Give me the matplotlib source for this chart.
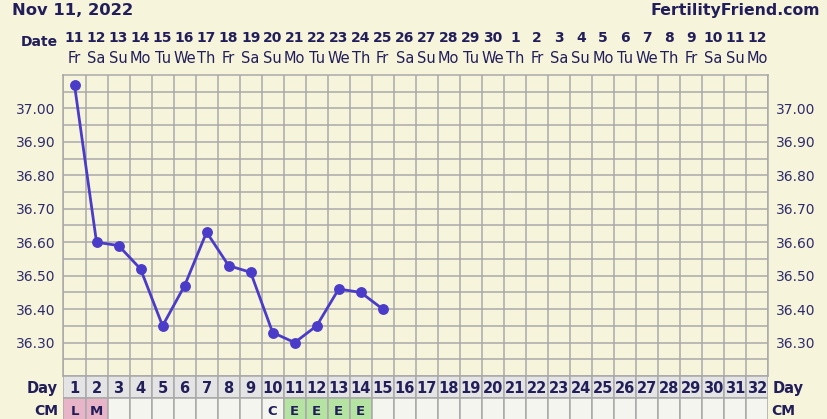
import numpy as np
import matplotlib
matplotlib.use("Agg")
import matplotlib.pyplot as plt
import matplotlib.transforms as mtransforms

# ---------------- data ----------------
cycle_days = list(range(1, 33))
date_nums = ["11", "12", "13", "14", "15", "16", "17", "18", "19", "20", "21", "22",
             "23", "24", "25", "26", "27", "28", "29", "30", "1", "2", "3", "4", "5",
             "6", "7", "8", "9", "10", "11", "12"]
weekdays = ["Fr", "Sa", "Su", "Mo", "Tu", "We", "Th"] * 4 + ["Fr", "Sa", "Su", "Mo"]
temp_days = list(range(1, 16))
temps = [37.07, 36.60, 36.59, 36.52, 36.35, 36.47, 36.63, 36.53, 36.51,
         36.33, 36.30, 36.35, 36.46, 36.45, 36.40]
cm_days = [1, 2, 10, 11, 12, 13, 14]
cm_codes = ["L", "M", "C", "E", "E", "E", "E"]
y_ticks = [36.30, 36.40, 36.50, 36.60, 36.70, 36.80, 36.90, 37.00]
title = "Nov 11, 2022"
brand = "FertilityFriend.com"

# ---------------- style ----------------
BG = "#f7f4dc"
GRID = "#a9a9a9"
NAVY = "#221e5a"
LABEL = "#2e2b6b"
LINE = "#4a3cc8"
DAYROW = "#e4e4e4"
CMROW = "#f5f5f0"
CM_COLORS = {"L": "#e8b5c8", "M": "#e8b5c8", "E": "#b5e3a1", "C": CMROW}

W, H = 828, 419
fig = plt.figure(figsize=(W / 100, H / 100), dpi=100, facecolor=BG)

def fy(px):
    return 1 - px / H

x0, x1 = 63.5, 768.0
ytop, ybot = 75.0, 376.0
ax = fig.add_axes([x0 / W, 1 - ybot / H, (x1 - x0) / W, (ybot - ytop) / H])
ax.set_facecolor(BG)
ax.set_xlim(0.5, 32.5)
ax.set_ylim(36.20, 37.10)
ax.set_xticks(np.arange(0.5, 33.0, 1.0))
ax.set_xticklabels([])
ax.set_yticks(y_ticks)
ax.set_yticklabels([f"{v:.2f}" for v in y_ticks])
ax.set_yticks(np.arange(36.25, 37.10, 0.1), minor=True)
ax.grid(True, which="both", color=GRID, linewidth=1.1)
ax.tick_params(axis="both", which="both", length=0)
ax.tick_params(axis="y", which="major", labelleft=True, labelright=True,
               labelsize=10, labelcolor=LABEL, pad=6)
for s in ax.spines.values():
    s.set_color(GRID)
    s.set_linewidth(1.1)
ax.set_axisbelow(True)

ax.plot(temp_days, temps, color=LINE, linewidth=2.0, marker="o",
        markersize=6.8, markerfacecolor=LINE, markeredgecolor=LINE, zorder=5)

# ---------------- bottom rows ----------------
ax2 = fig.add_axes([x0 / W, 0, (x1 - x0) / W, ybot / H])
ax2.set_xlim(0.5, 32.5)
ax2.set_ylim(0, ybot)
ax2.axis("off")
row_cm = (0, 21)
row_day = (21, 43)
ax2.bar(cycle_days, [row_day[1] - row_day[0]] * 32, bottom=row_day[0], width=1.0,
        color=DAYROW, edgecolor=GRID, linewidth=1.1)
cm_fill = [CMROW] * 32
for d, c in zip(cm_days, cm_codes):
    cm_fill[d - 1] = CM_COLORS[c]
ax2.bar(cycle_days, [row_cm[1] - row_cm[0] + 2] * 32, bottom=row_cm[0] - 2, width=1.0,
        color=cm_fill, edgecolor=GRID, linewidth=1.1)
tf2 = mtransforms.blended_transform_factory(ax2.transData, fig.transFigure)
for d in cycle_days:
    ax2.text(d, fy(393), str(d), transform=tf2, ha="center", va="baseline",
             fontsize=10.5, fontweight="bold", color=NAVY)
for d, c in zip(cm_days, cm_codes):
    ax2.text(d, fy(415), c, transform=tf2, ha="center", va="baseline",
             fontsize=9.5, fontweight="bold", color=NAVY)

# ---------------- labels ----------------
tf = mtransforms.blended_transform_factory(ax.transData, fig.transFigure)
for d, dn, wd in zip(cycle_days, date_nums, weekdays):
    fig.text(d, fy(42), dn, transform=tf, ha="center", va="baseline",
             fontsize=10, fontweight="bold", color=NAVY)
    fig.text(d, fy(63), wd, transform=tf, ha="center", va="baseline",
             fontsize=10.5, color=NAVY)

fig.text(12 / W, fy(15), title, ha="left", va="baseline", fontsize=11.8,
         fontweight="bold", color=NAVY)
fig.text(820 / W, fy(15), brand, ha="right", va="baseline", fontsize=11.3,
         fontweight="bold", color=NAVY)
fig.text(58 / W, fy(46.5), "Date", ha="right", va="baseline", fontsize=10,
         fontweight="bold", color=NAVY)
fig.text(58 / W, fy(393), "Day", ha="right", va="baseline", fontsize=10.5,
         fontweight="bold", color=NAVY)
fig.text(58 / W, fy(415), "CM", ha="right", va="baseline", fontsize=10,
         fontweight="bold", color=NAVY)
fig.text(773 / W, fy(393), "Day", ha="left", va="baseline", fontsize=10.5,
         fontweight="bold", color=NAVY)
fig.text(771 / W, fy(415), "CM", ha="left", va="baseline", fontsize=10,
         fontweight="bold", color=NAVY)

fig.savefig("out.png", dpi=100, facecolor=BG)
